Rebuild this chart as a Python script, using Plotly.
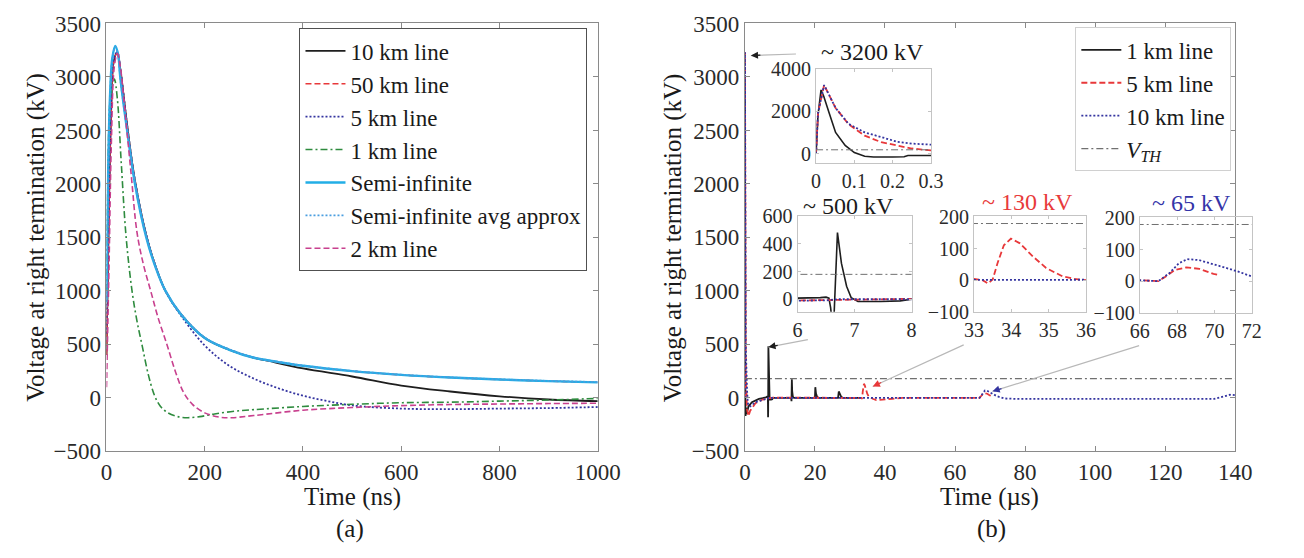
import plotly.graph_objects as go

FONT = "Liberation Serif"

# ---------------- Panel (a): time in ns ----------------
t_10km = [0, 4, 9, 15, 22, 28, 42, 58, 81, 100, 120, 150, 200, 250, 300, 330, 400, 500, 600, 700, 800, 900, 1000]
v_10km = [400, 1500, 2600, 3150, 3230, 3080, 2550, 2030, 1520, 1230, 1000, 790, 560, 450, 375, 345, 275, 200, 115, 60, 15, -15, -30]

t_50km = [0, 4, 9, 15, 22, 28, 42, 58, 81, 100, 120, 150, 200, 250, 300, 400, 500, 600, 700, 800, 900, 1000]
v_50km = [400, 1500, 2600, 3150, 3230, 3080, 2550, 2030, 1520, 1230, 1000, 790, 560, 450, 375, 300, 250, 215, 190, 172, 157, 145]

t_5km = [0, 4, 9, 15, 22, 28, 42, 58, 81, 100, 120, 150, 200, 250, 300, 350, 400, 450, 500, 600, 700, 800, 900, 1000]
v_5km = [600, 1600, 2650, 3170, 3230, 3080, 2550, 2030, 1520, 1230, 1000, 780, 490, 300, 180, 90, 20, -30, -70, -100, -105, -100, -95, -85]

t_1km = [0, 3, 8, 16, 22, 30, 40, 52, 62, 73, 85, 98, 110, 125, 145, 165, 190, 220, 260, 300, 400, 500, 600, 700, 800, 900, 1000]
v_1km = [1000, 2100, 2800, 2980, 2800, 2200, 1500, 1000, 720, 480, 220, 20, -80, -140, -175, -185, -175, -150, -125, -110, -80, -60, -45, -40, -30, -20, -5]

t_semi = [0, 3, 7, 12, 18, 24, 28, 42, 58, 81, 100, 120, 150, 200, 250, 300, 350, 400, 500, 600, 700, 800, 900, 1000]
v_semi = [900, 2000, 2800, 3180, 3290, 3200, 3000, 2500, 2000, 1500, 1220, 1000, 790, 560, 450, 375, 335, 300, 250, 215, 190, 172, 157, 145]

t_avg = [0, 3, 7, 12, 18, 24, 28, 42, 58, 81, 100, 120, 150, 200, 250, 300, 350, 400, 500, 600, 700, 800, 900, 1000]
v_avg = [850, 1950, 2780, 3170, 3280, 3190, 2990, 2500, 2000, 1505, 1225, 1005, 795, 565, 455, 378, 337, 302, 252, 217, 192, 174, 159, 148]

t_2km = [0, 5, 10, 16, 22, 28, 35, 50, 62, 75, 90, 105, 123, 140, 157, 175, 200, 230, 255, 300, 400, 500, 600, 700, 800, 900, 1000]
v_2km = [100, 1200, 2400, 3100, 3220, 3100, 2800, 2100, 1550, 1250, 1000, 750, 500, 250, 50, -60, -140, -180, -185, -165, -115, -90, -72, -62, -57, -53, -50]

# ---------------- Panel (b): time in microseconds ----------------
tb_1km = [0, 0.005, 0.013, 0.02, 0.034, 0.051, 0.076, 0.10, 0.127, 0.15, 0.2, 0.23, 0.24, 0.3, 0.5, 1, 2, 4, 6,
          6.4, 6.5, 6.55, 6.58, 6.61, 6.64, 6.70, 6.77, 6.86, 6.94, 7.06, 7.46, 7.8, 8,
          13.2, 13.3, 13.4, 13.5, 13.7, 14, 20, 20.1, 20.3, 20.6, 21, 26.6, 26.8, 27.1, 27.5, 28, 32.8]
vb_1km = [0, 1800, 3000, 2700, 1920, 1000, 385, 46, -123, -160, -160, -150, -90, -90, -150, -80, -40, -10, 5,
          12, 15, 8, -60, -180, -120, 482, 259, 94, 12, -16, -16, -12, 0,
          0, -30, 175, 60, 10, 0, 0, 100, 40, 10, 0, 0, 60, 30, 10, 0, 0]

tb_5km = [0, 0.005, 0.021, 0.051, 0.085, 0.127, 0.17, 0.211, 0.25, 0.3, 0.4, 0.6, 1, 1.5, 3, 5, 8,
          33.0, 33.23, 33.37, 33.5, 33.63, 33.8, 33.99, 34.23, 34.58, 34.93, 35.37, 35.7, 36, 36.5, 37.5, 39, 42, 45,
          66, 67, 67.4, 67.9, 68.5, 69.2, 69.95, 70.2]
vb_5km = [0, 1900, 3230, 2150, 1385, 846, 540, 385, 240, 150, 20, -105, -170, -120, -50, -15, 3,
          4, 0, -10, 2, 54, 111, 132, 117, 75, 39, 12, 4, 0, -8, -20, -18, -8, 0,
          3, 0, 15, 36, 44, 39, 23, 20]

tb_10km = [0, 0.005, 0.021, 0.051, 0.085, 0.127, 0.17, 0.211, 0.25, 0.3, 0.4, 0.6, 0.8, 1, 1.5, 3, 6, 6.5, 6.7, 10,
           66, 67, 67.6, 68.1, 68.55, 69.17, 70.4, 71.25, 72, 74, 78, 134, 135.5, 137, 138.5, 140]
vb_10km = [0, 1900, 3230, 2150, 1400, 1000, 780, 560, 470, 370, 200, 80, -40, -70, -80, -40, -10, -8, 0, 0,
           3, 0, 26, 57, 70, 67, 46, 31, 15, -5, -10, -10, 0, 15, 30, 25]

t_vth = [0, 140]
v_vth = [180, 180]

# ---------------- styling ----------------
C_BLACK = "#1e1e1e"
C_RED = "#e8383a"
C_NAVY = "#3434a0"
C_GREEN = "#2e8b3e"
C_CYAN = "#22aee6"
C_LBLUE = "#4a9ee0"
C_MAG = "#c8408e"
C_GRAY = "#707070"

DASH = "6px,3px"
DOT = "2px,2px"
DASHDOT = "7px,3px,2px,3px"

fig = go.Figure()


def add(x, y, name, color, dash, width, xa, ya, legend="legend", showlegend=True, shape="linear"):
    fig.add_trace(go.Scatter(
        x=x, y=y, name=name, mode="lines",
        line=dict(color=color, dash=dash, width=width, shape=shape),
        xaxis=xa, yaxis=ya, legend=legend, showlegend=showlegend,
        hoverinfo="skip"))


# panel (a)
add(t_10km, v_10km, "10 km line", C_BLACK, "solid", 1.8, "x", "y", shape="spline")
add(t_50km, v_50km, "50 km line", C_RED, DASH, 1.6, "x", "y", shape="spline")
add(t_5km, v_5km, "5 km line", C_NAVY, DOT, 1.8, "x", "y", shape="spline")
add(t_1km, v_1km, "1 km line", C_GREEN, DASHDOT, 1.6, "x", "y", shape="spline")
add(t_semi, v_semi, "Semi-infinite", C_CYAN, "solid", 2.4, "x", "y", shape="spline")
add(t_avg, v_avg, "Semi-infinite avg approx", C_LBLUE, DOT, 1.8, "x", "y", shape="spline")
add(t_2km, v_2km, "2 km line", C_MAG, DASH, 1.6, "x", "y", shape="spline")

# panel (b) main
add(tb_1km, vb_1km, "1 km line", C_BLACK, "solid", 1.8, "x2", "y2", legend="legend2")
add(tb_5km, vb_5km, "5 km line", C_RED, DASH, 1.8, "x2", "y2", legend="legend2")
add(tb_10km, vb_10km, "10 km line", C_NAVY, DOT, 1.8, "x2", "y2", legend="legend2")
add(t_vth, v_vth, "<i>V</i><sub><i>TH</i></sub>", C_GRAY, DASHDOT, 1.2, "x2", "y2", legend="legend2")

# insets
for k in ["3", "4", "5", "6"]:
    add(tb_1km, vb_1km, "1 km line", C_BLACK, "solid", 1.6, "x" + k, "y" + k, showlegend=False)
    add(tb_5km, vb_5km, "5 km line", C_RED, DASH, 1.8, "x" + k, "y" + k, showlegend=False)
    add(tb_10km, vb_10km, "10 km line", C_NAVY, DOT, 1.8, "x" + k, "y" + k, showlegend=False)
    add(t_vth, v_vth, "VTH", C_GRAY, DASHDOT, 1.0, "x" + k, "y" + k, showlegend=False)

W, H = 1304, 558
T_NEW, B_NEW = 12, 460      # main plot frame (top / bottom) in px
T_REF, B_REF = 16, 451      # frame used when measuring inset positions


def px_x(p):
    return p / W


def fy(p):
    """map a measured vertical px (relative to measured frame) into the new frame, paper coords"""
    q = T_NEW + (p - T_REF) / (B_REF - T_REF) * (B_NEW - T_NEW)
    return 1 - q / H


def py(p):
    return 1 - p / H


main_ax = dict(showline=True, linecolor="#8a8a8a", linewidth=1, mirror="ticks",
               ticks="inside", ticklen=5, tickcolor="#8a8a8a", showgrid=False, zeroline=False,
               tickfont=dict(family=FONT, size=23, color="#2a2a2a"))
inset_ax = dict(showline=True, linecolor="#c4c4c4", linewidth=1, mirror="ticks",
                ticks="inside", ticklen=3, tickcolor="#c4c4c4", showgrid=False, zeroline=False,
                tickfont=dict(family=FONT, size=20, color="#2a2a2a"))

fig.update_layout(
    width=W, height=H, margin=dict(l=0, r=0, t=0, b=0),
    paper_bgcolor="white", plot_bgcolor="rgba(0,0,0,0)",
    showlegend=True,
    xaxis=dict(main_ax, domain=[px_x(99), px_x(603)], range=[0, 1000], tickvals=[0, 200, 400, 600, 800, 1000], anchor="y"),
    yaxis=dict(main_ax, domain=[py(B_NEW), py(T_NEW)], range=[-500, 3500],
               tickvals=[-500, 0, 500, 1000, 1500, 2000, 2500, 3000, 3500], anchor="x"),
    xaxis2=dict(main_ax, domain=[px_x(754), px_x(1257)], range=[0, 140], tickvals=[0, 20, 40, 60, 80, 100, 120, 140], anchor="y2"),
    yaxis2=dict(main_ax, domain=[py(B_NEW), py(T_NEW)], range=[-500, 3500],
                tickvals=[-500, 0, 500, 1000, 1500, 2000, 2500, 3000, 3500], anchor="x2"),
    xaxis3=dict(inset_ax, domain=[px_x(827), px_x(945)], range=[0, 0.3005], tickvals=[0, 0.1, 0.2, 0.3],
                ticktext=["0", "0.1", "0.2", "0.3"], anchor="y3"),
    yaxis3=dict(inset_ax, domain=[fy(158), fy(62)], range=[-450, 4000], tickvals=[0, 2000, 4000], anchor="x3"),
    xaxis4=dict(inset_ax, domain=[px_x(808), px_x(925)], range=[6, 8], tickvals=[6, 7, 8], anchor="y4"),
    yaxis4=dict(inset_ax, domain=[fy(309), fy(212)], range=[-90, 600], tickvals=[0, 200, 400, 600], anchor="x4"),
    xaxis5=dict(inset_ax, domain=[px_x(989), px_x(1104)], range=[33, 36], tickvals=[33, 34, 35, 36], anchor="y5"),
    yaxis5=dict(inset_ax, domain=[fy(309), fy(212)], range=[-100, 203], tickvals=[-100, 0, 100, 200], anchor="x5"),
    xaxis6=dict(inset_ax, domain=[px_x(1159), px_x(1274)], range=[66, 72], tickvals=[66, 68, 70, 72], anchor="y6"),
    yaxis6=dict(inset_ax, domain=[fy(310), fy(213)], range=[-100, 203], tickvals=[-100, 0, 100, 200], anchor="x6"),
    legend=dict(x=px_x(297), y=fy(21), xanchor="left", yanchor="top",
                bgcolor="white", bordercolor="#505050", borderwidth=1,
                font=dict(family=FONT, size=23, color="#1a1a1a"), itemwidth=40,
                tracegroupgap=0),
    legend2=dict(x=px_x(1093), y=fy(20), xanchor="left", yanchor="top",
                 bgcolor="white", bordercolor="#d0d0d0", borderwidth=1,
                 font=dict(family=FONT, size=23, color="#1a1a1a"), itemwidth=40,
                 tracegroupgap=0),
)

ann = []


def text(x, yp, s, size=24, color="#1a1a1a", angle=0):
    ann.append(dict(x=px_x(x), y=yp, xref="paper", yref="paper", text=s, showarrow=False,
                    textangle=angle, font=dict(family=FONT, size=size, color=color),
                    xanchor="center", yanchor="middle"))


mid = (T_NEW + B_NEW) / 2
text(27, py(mid), "Voltage at right termination (kV)", size=25, angle=-90)
text(681, py(mid), "Voltage at right termination (kV)", size=25, angle=-90)
text(351, py(B_NEW + 48), "Time (ns)", size=25)
text(1005, py(B_NEW + 48), "Time (\u00b5s)", size=25)
text(349, py(B_NEW + 81), "(a)", size=25)
text(1007, py(B_NEW + 81), "(b)", size=25)
text(885, fy(45), "~ 3200 kV")
text(860, fy(202), "~ 500 kV")
text(1044, fy(197), "~ 130 kV", color="#e83a3a")
text(1212, fy(199), "~ 65 kV", color="#3434a8")

# arrows: (head_t, head_v, tail_t, tail_v, head colour)
arrows = [
    (1.7, 3200, 15, 3215, C_BLACK),
    (6.7, 475, 18.4, 548, C_BLACK),
    (36.5, 107, 62.9, 502, C_RED),
    (70.7, 61, 113, 493, C_NAVY),
]
for (hx, hy, tx, ty, col) in arrows:
    ann.append(dict(x=hx, y=hy, xref="x2", yref="y2", ax=tx, ay=ty, axref="x2", ayref="y2",
                    showarrow=True, arrowhead=0, arrowwidth=1.2, arrowcolor="#b8b8b8", text=""))
    dxp = (tx - hx) / 140 * 503
    dyp = -(ty - hy) / 4000 * (B_NEW - T_NEW)
    L = (dxp ** 2 + dyp ** 2) ** 0.5
    ann.append(dict(x=hx, y=hy, xref="x2", yref="y2", ax=dxp / L * 11, ay=dyp / L * 11,
                    showarrow=True, arrowhead=2, arrowsize=1.1, arrowwidth=1.3, arrowcolor=col, text=""))

fig.update_layout(annotations=ann)

fig.write_html("out.html")
